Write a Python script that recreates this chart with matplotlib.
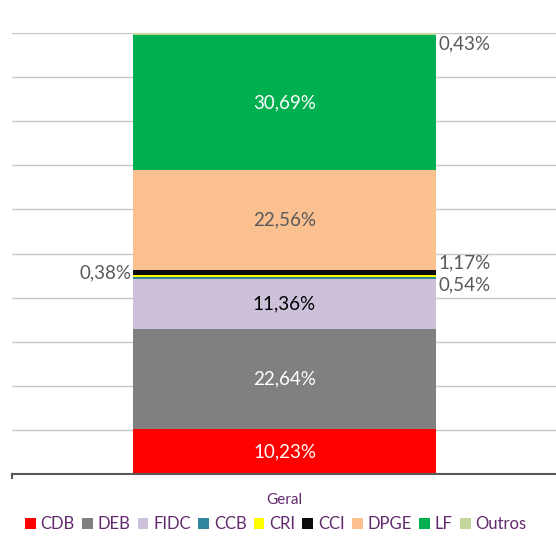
import matplotlib.pyplot as plt
import matplotlib.patches as patches

# dados
categories = ["Geral"]
series = ["CDB", "DEB", "FIDC", "CCB", "CRI", "CCI", "DPGE", "LF", "Outros"]
values = [10.23, 22.64, 11.36, 0.54, 0.38, 1.17, 22.56, 30.69, 0.43]

colors = ["#FF0000", "#808080", "#CCC0DA", "#31859C", "#FFFF00", "#0D0D0D", "#FAC090", "#00B050", "#C3D69B"]
inside_color = {"CDB": "white", "DEB": "white", "FIDC": "black", "DPGE": "#595959", "LF": "white"}
# rótulos externos: (lado, deslocamento vertical em pixels)
outside = {"CCB": ("right", -7), "CRI": ("left", 3), "CCI": ("right", 9), "Outros": ("right", -10)}

plt.rcParams["font.family"] = ["Lato", "DejaVu Sans"]

fig = plt.figure(figsize=(5.56, 5.45), dpi=100)
ax = fig.add_axes([12 / 556, 71 / 545, 545 / 556, 441 / 545])

bar_w = 303 / 545
bottom = 0
for name, val, col in zip(series, values, colors):
    ax.bar(0, val, bar_w, bottom=bottom, color=col, zorder=3)
    center = bottom + val / 2
    label = f"{val:.2f}%".replace(".", ",")
    if name in inside_color:
        ax.text(0, center, label, ha="center", va="center", fontsize=13.5, color=inside_color[name], zorder=4)
    else:
        side, dy = outside[name]
        if side == "right":
            ax.annotate(label, (bar_w / 2, center), xytext=(2, dy * 0.72), textcoords="offset points",
                        ha="left", va="center", fontsize=13.5, color="#595959")
        else:
            ax.annotate(label, (-bar_w / 2, center), xytext=(-1, dy * 0.72), textcoords="offset points",
                        ha="right", va="center", fontsize=13.5, color="#595959")
    bottom += val

ax.set_xlim(-0.5, 0.5)
ax.set_ylim(0, 100)
ax.set_yticks(range(0, 101, 10))
ax.yaxis.grid(True, color="#C8C8C8", linewidth=1, zorder=0)
ax.tick_params(axis="y", left=False, labelleft=False)
ax.set_xticks([0])
ax.set_xticklabels(categories, color="#632A6E", fontsize=11)
ax.tick_params(axis="x", length=0, pad=14)
for s in ["top", "right", "left"]:
    ax.spines[s].set_visible(False)
ax.spines["bottom"].set_color("#595959")
ax.spines["bottom"].set_linewidth(1.5)
ax.spines["bottom"].set_zorder(5)
ax.plot([-0.5, -0.5], [0, -1], color="#595959", lw=1.5, clip_on=False)

handles = [patches.Patch(facecolor=c, edgecolor="none") for c in colors]
leg = fig.legend(handles, series, loc="center", bbox_to_anchor=(0.496, 21 / 545), ncol=9, frameon=False,
                 fontsize=12, handlelength=0.65, handleheight=0.65, handletextpad=0.3, columnspacing=0.42,
                 borderaxespad=0, borderpad=0)
for t in leg.get_texts():
    t.set_color("#632A6E")

fig.savefig("out.png", dpi=100)
